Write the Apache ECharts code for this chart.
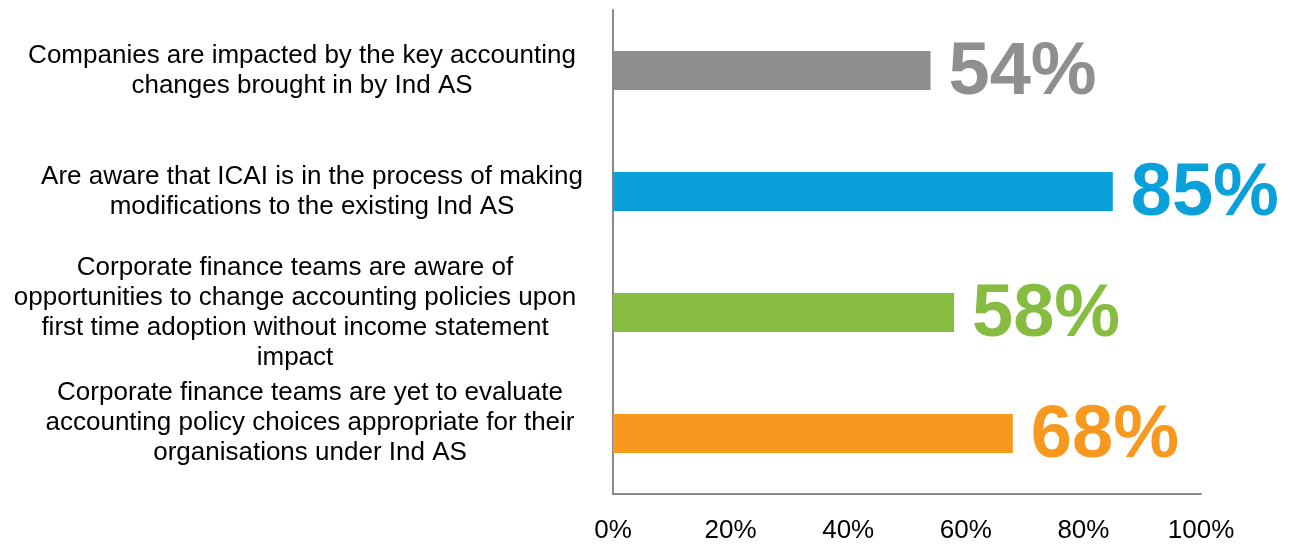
<!DOCTYPE html>
<html>
<head>
<meta charset="utf-8">
<script src="https://cdn.jsdelivr.net/npm/echarts@6/dist/echarts.min.js"></script>
<style>
    html, body {margin: 0; padding: 0; background: #fff;}
    #chart {width: 1291px; height: 546px;}
</style>
</head>
<body>
<div id="chart"></div>
<script>
// categories top to bottom
const categories = [
    "Companies are impacted by the key accounting\nchanges brought in by Ind AS",
    "Are aware that ICAI is in the process of making\nmodifications to the existing Ind AS",
    "Corporate finance teams are aware of\nopportunities to change accounting policies upon\nfirst time adoption without income statement\nimpact",
    "Corporate finance teams are yet to evaluate\naccounting policy choices appropriate for their\norganisations under Ind AS"
];
const values = [54, 85, 58, 68];
const barColors = ["#8f8f90", "#0aa0da", "#86bc40", "#f7991f"];
const xTicks = [0, 20, 40, 60, 80, 100];

// label box nudges, like the hand placed text boxes of the original
const labelPads = [
    [0, 0, 0, 0],
    [0, 0, 0, 20],
    [0, 14, 0, 0],
    [0, 0, 0, 16]
];

const chart = echarts.init(document.getElementById("chart"));

let option = {
    animation: false,
    grid: {left: 613, right: 90, top: 10, bottom: 52, outerBoundsMode: 'none'},
    xAxis: {
        type: 'value',
        min: xTicks[0],
        max: xTicks[xTicks.length - 1],
        interval: 20,
        axisLine: {show: true, lineStyle: {color: "#8a8a8a", width: 2}},
        axisTick: {show: false},
        splitLine: {show: false},
        axisLabel: {
            formatter: '{value}%',
            fontFamily: 'Liberation Sans, Arial',
            fontSize: 26,
            color: "#000",
            margin: 24
        }
    },
    yAxis: {
        type: 'category',
        inverse: true,
        data: categories.map((c, i) => ({value: c, textStyle: {align: 'center', padding: labelPads[i]}})),
        axisLine: {show: true, lineStyle: {color: "#8a8a8a", width: 2}},
        axisTick: {show: false},
        axisLabel: {
            interval: 0,
            hideOverlap: false,
            align: 'center',
            fontFamily: 'Liberation Sans, Arial',
            fontSize: 26,
            lineHeight: 30,
            color: "#000",
            margin: 311,
            // last label sits a bit higher in the original, push it up with an empty line
            formatter: function (value, index) {
                return index === 3 ? value + '\n{gap|\u00a0}' : value;
            },
            rich: {
                gap: {fontSize: 10, lineHeight: 22}
            }
        }
    },
    series: [{
        type: 'bar',
        barWidth: 39,
        data: values.map((v, i) => ({value: v, itemStyle: {color: barColors[i]}})),
        label: {
            show: true,
            position: 'right',
            distance: 18,
            offset: [0, 3],
            formatter: '{c}%',
            fontFamily: 'Liberation Sans, Arial',
            fontWeight: 'bold',
            fontSize: 74,
            color: 'inherit'
        }
    }]
};
chart.setOption(option);
</script>
</body>
</html>
